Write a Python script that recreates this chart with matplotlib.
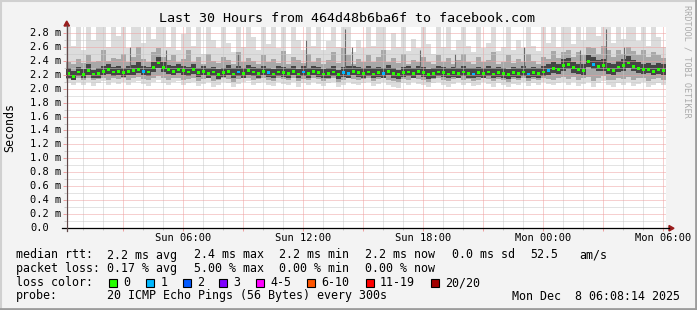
import matplotlib
matplotlib.use('Agg')

import numpy as np
import matplotlib.pyplot as plt
import matplotlib.transforms as mtrans
from matplotlib.lines import Line2D
from matplotlib.patches import Polygon, Rectangle

W, H = 697, 310
plt.rcParams['font.family'] = 'DejaVu Sans Mono'

# time axis: hours after Sun 00:00, one bin = 15 min
t_start = 0.15
bin_hours = 0.25

median_ms = [
    2.22, 2.18, 2.24, 2.20, 2.26, 2.21, 2.22, 2.25, 2.27, 2.24,
    2.25, 2.23, 2.25, 2.26, 2.28, 2.25, 2.24, 2.30, 2.37, 2.30,
    2.27, 2.25, 2.28, 2.26, 2.24, 2.27, 2.23, 2.25, 2.22, 2.24,
    2.20, 2.23, 2.25, 2.21, 2.24, 2.22, 2.26, 2.24, 2.22, 2.25,
    2.23, 2.21, 2.24, 2.23, 2.22, 2.25, 2.21, 2.24, 2.22, 2.25,
    2.23, 2.21, 2.22, 2.24, 2.20, 2.23, 2.22, 2.25, 2.23, 2.22,
    2.24, 2.21, 2.23, 2.22, 2.25, 2.22, 2.20, 2.23, 2.24, 2.22,
    2.25, 2.23, 2.20, 2.22, 2.24, 2.23, 2.21, 2.23, 2.22, 2.24,
    2.22, 2.21, 2.23, 2.22, 2.24, 2.21, 2.23, 2.22, 2.20, 2.23,
    2.22, 2.24, 2.21, 2.23, 2.22, 2.24, 2.26, 2.29, 2.27, 2.33,
    2.35, 2.30, 2.27, 2.26, 2.39, 2.35, 2.32, 2.33, 2.28, 2.26,
    2.31, 2.33, 2.37, 2.32, 2.29, 2.27, 2.28, 2.25, 2.28, 2.26,
]

# lost pings per bin (0 = green)
loss = [
    0, 0, 0, 0, 0, 0, 0, 0, 0, 0, 0, 0, 0, 0, 0, 1, 0, 0, 0, 0,
    0, 0, 0, 0, 0, 0, 0, 0, 0, 0, 0, 0, 0, 0, 1, 0, 0, 0, 0, 0,
    1, 0, 0, 0, 0, 0, 0, 1, 0, 0, 0, 0, 0, 0, 0, 1, 1, 0, 0, 0,
    0, 0, 0, 1, 0, 0, 0, 0, 0, 0, 0, 0, 0, 0, 0, 0, 0, 0, 0, 0,
    0, 1, 0, 0, 0, 0, 0, 0, 0, 0, 0, 0, 1, 0, 0, 0, 1, 0, 0, 0,
    0, 0, 0, 0, 0, 1, 0, 0, 0, 0, 0, 0, 0, 0, 0, 0, 0, 0, 0, 0,
]

smoke_min = [
    2.08, 2.05, 2.10, 2.06, 2.09, 2.04, 2.08, 2.11, 2.06, 2.09,
    2.07, 2.10, 2.05, 2.09, 2.11, 2.07, 2.04, 2.10, 2.12, 2.08,
    2.06, 2.09, 2.11, 2.05, 2.08, 2.10, 2.04, 2.07, 2.09, 2.03,
    2.06, 2.10, 2.08, 2.02, 2.07, 2.09, 2.11, 2.05, 2.08, 2.10,
    2.06, 2.04, 2.09, 2.07, 2.05, 2.10, 2.03, 2.08, 2.06, 2.09,
    2.07, 2.04, 2.08, 2.10, 2.02, 2.06, 2.09, 2.07, 2.05, 2.08,
    2.10, 2.04, 2.07, 2.09, 2.06, 2.03, 2.01, 2.08, 2.06, 2.09,
    2.07, 2.05, 2.02, 2.08, 2.10, 2.06, 2.03, 2.07, 2.09, 2.05,
    2.08, 2.04, 2.06, 2.09, 2.07, 2.03, 2.08, 2.06, 2.02, 2.07,
    2.05, 2.09, 2.04, 2.08, 2.06, 2.09, 2.07, 2.05, 2.08, 2.10,
    2.06, 2.09, 2.04, 2.07, 2.10, 2.02, 2.08, 2.11, 2.05, 2.03,
    2.08, 2.06, 2.10, 2.04, 2.07, 2.09, 2.03, 2.06, 2.08, 2.05,
]

smoke_lo = [
    2.14, 2.12, 2.15, 2.13, 2.16, 2.12, 2.14, 2.16, 2.13, 2.15,
    2.14, 2.16, 2.12, 2.15, 2.17, 2.14, 2.12, 2.16, 2.18, 2.15,
    2.13, 2.15, 2.16, 2.12, 2.14, 2.16, 2.11, 2.14, 2.15, 2.11,
    2.13, 2.16, 2.14, 2.10, 2.14, 2.15, 2.16, 2.12, 2.14, 2.16,
    2.13, 2.11, 2.15, 2.14, 2.12, 2.16, 2.11, 2.14, 2.13, 2.15,
    2.14, 2.11, 2.14, 2.16, 2.10, 2.13, 2.15, 2.14, 2.12, 2.14,
    2.16, 2.11, 2.14, 2.15, 2.13, 2.11, 2.09, 2.14, 2.13, 2.15,
    2.14, 2.12, 2.10, 2.14, 2.16, 2.13, 2.11, 2.14, 2.15, 2.12,
    2.14, 2.11, 2.13, 2.15, 2.14, 2.11, 2.14, 2.13, 2.10, 2.14,
    2.12, 2.15, 2.11, 2.14, 2.13, 2.15, 2.14, 2.13, 2.15, 2.17,
    2.14, 2.17, 2.12, 2.15, 2.17, 2.11, 2.16, 2.18, 2.13, 2.12,
    2.16, 2.14, 2.17, 2.12, 2.15, 2.16, 2.11, 2.14, 2.15, 2.13,
]

core_lo = [
    2.16, 2.13, 2.18, 2.15, 2.20, 2.15, 2.16, 2.19, 2.21, 2.18,
    2.19, 2.17, 2.19, 2.20, 2.22, 2.19, 2.18, 2.24, 2.30, 2.24,
    2.21, 2.19, 2.22, 2.20, 2.18, 2.21, 2.17, 2.19, 2.16, 2.18,
    2.14, 2.17, 2.19, 2.15, 2.18, 2.16, 2.20, 2.18, 2.16, 2.19,
    2.17, 2.15, 2.18, 2.17, 2.16, 2.19, 2.15, 2.18, 2.16, 2.19,
    2.17, 2.15, 2.16, 2.18, 2.14, 2.17, 2.16, 2.19, 2.17, 2.16,
    2.18, 2.15, 2.17, 2.16, 2.19, 2.16, 2.14, 2.17, 2.18, 2.16,
    2.19, 2.17, 2.14, 2.16, 2.18, 2.17, 2.15, 2.17, 2.16, 2.18,
    2.16, 2.15, 2.17, 2.16, 2.18, 2.15, 2.17, 2.16, 2.14, 2.17,
    2.16, 2.18, 2.15, 2.17, 2.16, 2.18, 2.20, 2.22, 2.21, 2.26,
    2.28, 2.23, 2.21, 2.20, 2.31, 2.28, 2.25, 2.26, 2.21, 2.20,
    2.24, 2.26, 2.30, 2.25, 2.22, 2.21, 2.22, 2.19, 2.21, 2.20,
]

core_hi = [
    2.29, 2.26, 2.31, 2.28, 2.35, 2.27, 2.30, 2.33, 2.36, 2.31,
    2.32, 2.30, 2.33, 2.34, 2.38, 2.33, 2.31, 2.39, 2.45, 2.38,
    2.34, 2.33, 2.36, 2.33, 2.31, 2.35, 2.30, 2.33, 2.29, 2.31,
    2.28, 2.30, 2.34, 2.29, 2.32, 2.30, 2.34, 2.31, 2.29, 2.33,
    2.30, 2.28, 2.32, 2.31, 2.29, 2.33, 2.28, 2.32, 2.30, 2.33,
    2.31, 2.28, 2.30, 2.32, 2.27, 2.31, 2.32, 2.33, 2.31, 2.30,
    2.32, 2.29, 2.31, 2.30, 2.34, 2.30, 2.27, 2.31, 2.32, 2.30,
    2.33, 2.31, 2.28, 2.30, 2.32, 2.31, 2.29, 2.31, 2.30, 2.32,
    2.30, 2.29, 2.31, 2.30, 2.33, 2.29, 2.31, 2.30, 2.28, 2.31,
    2.30, 2.32, 2.29, 2.31, 2.30, 2.33, 2.35, 2.38, 2.36, 2.42,
    2.44, 2.39, 2.36, 2.35, 2.48, 2.45, 2.41, 2.42, 2.37, 2.35,
    2.40, 2.42, 2.47, 2.41, 2.38, 2.36, 2.37, 2.34, 2.37, 2.35,
]

smoke_hi = [
    2.38, 2.36, 2.42, 2.37, 2.48, 2.38, 2.40, 2.55, 2.40, 2.44,
    2.42, 2.50, 2.39, 2.46, 2.60, 2.42, 2.39, 2.52, 2.58, 2.45,
    2.41, 2.48, 2.38, 2.43, 2.55, 2.39, 2.45, 2.36, 2.50, 2.40,
    2.37, 2.46, 2.41, 2.35, 2.52, 2.38, 2.44, 2.40, 2.36, 2.48,
    2.39, 2.43, 2.37, 2.54, 2.35, 2.46, 2.41, 2.37, 2.50, 2.39,
    2.44, 2.36, 2.41, 2.52, 2.37, 2.58, 2.48, 2.36, 2.42, 2.38,
    2.48, 2.39, 2.45, 2.55, 2.38, 2.44, 2.37, 2.50, 2.36, 2.41,
    2.38, 2.46, 2.39, 2.35, 2.48, 2.38, 2.44, 2.36, 2.41, 2.50,
    2.39, 2.35, 2.46, 2.38, 2.41, 2.52, 2.36, 2.39, 2.48, 2.37,
    2.42, 2.38, 2.50, 2.40, 2.36, 2.46, 2.42, 2.54, 2.44, 2.52,
    2.56, 2.46, 2.52, 2.48, 2.60, 2.58, 2.50, 2.62, 2.55, 2.46,
    2.56, 2.50, 2.60, 2.54, 2.48, 2.55, 2.45, 2.52, 2.48, 2.44,
]

smoke_max = [
    2.89, 2.62, 2.89, 2.55, 2.89, 2.70, 2.89, 2.89, 2.60, 2.89,
    2.75, 2.89, 2.58, 2.89, 2.89, 2.66, 2.89, 2.72, 2.89, 2.89,
    2.60, 2.89, 2.55, 2.78, 2.89, 2.62, 2.89, 2.50, 2.89, 2.70,
    2.58, 2.89, 2.66, 2.52, 2.89, 2.60, 2.89, 2.74, 2.55, 2.89,
    2.64, 2.89, 2.58, 2.89, 2.50, 2.89, 2.70, 2.56, 2.89, 2.62,
    2.89, 2.55, 2.68, 2.89, 2.60, 2.89, 2.89, 2.52, 2.70, 2.58,
    2.89, 2.62, 2.89, 2.89, 2.56, 2.80, 2.60, 2.89, 2.54, 2.72,
    2.58, 2.89, 2.64, 2.50, 2.89, 2.60, 2.89, 2.56, 2.70, 2.89,
    2.62, 2.52, 2.89, 2.58, 2.66, 2.89, 2.54, 2.60, 2.89, 2.56,
    2.70, 2.58, 2.89, 2.62, 2.54, 2.89, 2.66, 2.89, 2.60, 2.89,
    2.89, 2.64, 2.89, 2.70, 2.89, 2.89, 2.76, 2.89, 2.89, 2.66,
    2.89, 2.72, 2.89, 2.89, 2.68, 2.89, 2.62, 2.89, 2.74, 2.60,
]

# single-sample dark streaks
spike_hours = [3.35, 5.15, 8.75, 12.15, 14.1, 14.45, 17.85, 19.6, 23.05, 25.85, 27.15, 28.05]
spike_tops = [2.60, 2.55, 2.50, 2.70, 2.85, 2.60, 2.55, 2.50, 2.60, 2.55, 2.85, 2.60]

time_ticks = [6, 12, 18, 24, 30]
time_labels = ['Sun 06:00', 'Sun 12:00', 'Sun 18:00', 'Mon 00:00', 'Mon 06:00']
y_ticks = [0.0, 0.2, 0.4, 0.6, 0.8, 1.0, 1.2, 1.4, 1.6, 1.8, 2.0, 2.2, 2.4, 2.6, 2.8]

loss_labels = ['0', '1', '2', '3', '4-5', '6-10', '11-19', '20/20']
loss_colors = ['#26ff00', '#00b8ff', '#0059ff', '#7e00ff', '#ff00ff', '#ff5500', '#ff0000', '#a10000']

rtt_stats = ['2.2 ms avg', '2.4 ms max', '2.2 ms min', '2.2 ms now', '0.0 ms sd', '52.5', 'am/s']
loss_stats = ['0.17 % avg', '5.00 % max', '0.00 % min', '0.00 % now']


def fx(x):
    return x / W


def fy(y):
    return 1 - y / H


fig = plt.figure(figsize=(W / 100, H / 100), dpi=100, facecolor='#f3f3f3')

# plot area in pixels: x 66..666, y 27..228
x0, x1, ybot, ytop = 66, 666, 228, 26.7
ax = fig.add_axes([fx(x0), fy(ybot), (x1 - x0) / W, (ybot - ytop) / H])
ax.set_facecolor('white')
ax.set_xlim(t_start, t_start + 30)
ax.set_ylim(0, 2.89)
for s in ax.spines.values():
    s.set_visible(False)

n = len(median_ms)
t_left = t_start + bin_hours * np.arange(n)
mins = np.array(smoke_min)
maxs = np.array(smoke_max)
los = np.array(smoke_lo)
his = np.array(smoke_hi)
clo = np.array(core_lo)
chi = np.array(core_hi)
med = np.array(median_ms)

bar_kw = dict(width=bin_hours, align='edge', linewidth=0, zorder=1)
ax.bar(t_left, maxs - mins, bottom=mins, color='#dcdcdc', **bar_kw)
ax.bar(t_left, his - los, bottom=los, color='#a8a8a8', **bar_kw)
ax.bar(t_left, chi - clo, bottom=clo, color='#454545', **bar_kw)
ax.vlines(spike_hours, 2.3, spike_tops, color='#6a6a6a', lw=0.8, zorder=1.2)

# median drawn as short loss-coloured blips, like smokeping's median band
sw = 0.02
ax.bar(t_left + bin_hours * 0.15, 2 * sw, bottom=med - sw, width=bin_hours * 0.7,
       align='edge', linewidth=0, color=[loss_colors[l] for l in loss], zorder=4)

# grid
ax.set_xticks(np.arange(3, 31, 3))
ax.set_xticks(np.arange(1, 31, 1), minor=True)
ax.set_xticklabels([time_labels[time_ticks.index(h)] if h in time_ticks else ''
                    for h in np.arange(3, 31, 3)])
ax.set_yticks(y_ticks)
ax.set_yticks(np.arange(0.1, 2.9, 0.2), minor=True)
ax.set_yticklabels([])
ax.set_axisbelow(False)
ax.grid(which='minor', color='#c8c8c8', ls=(0, (1, 1)), lw=0.72)
ax.grid(which='major', color='#eea0a0', ls=(0, (1, 1)), lw=0.72)
ax.tick_params(which='major', length=2.5, width=0.72, color='#eea0a0',
               labelsize=7.5, pad=1.2)
ax.tick_params(which='minor', length=1.5, width=0.72, color='#c8c8c8')

# y tick labels, left aligned in a fixed column like rrdtool
tr = mtrans.blended_transform_factory(fig.transFigure, ax.transData)
for v in y_ticks:
    lab = f'{v:.1f} m' if v > 0 else '0.0'
    ax.text(fx(30), v, lab, transform=tr, ha='left', va='center', fontsize=7.5)

# axes lines and arrows
fig.add_artist(Line2D([fx(62), fx(669)], [fy(228.3), fy(228.3)], color='black', lw=0.9))
fig.add_artist(Line2D([fx(66.7), fx(66.7)], [fy(231), fy(25)], color='#604848', lw=0.9))
fig.add_artist(Polygon([(fx(669), fy(225.5)), (fx(674), fy(228.3)), (fx(669), fy(231))],
                       closed=True, color='#9a1c1c', transform=fig.transFigure))
fig.add_artist(Polygon([(fx(64), fy(26)), (fx(66.7), fy(21)), (fx(69.5), fy(26))],
                       closed=True, color='#9a1c1c', transform=fig.transFigure))

# texts
fig.text(0.498, fy(19), 'Last 30 Hours from 464d48b6ba6f to facebook.com',
         ha='center', va='center', fontsize=9.6)
fig.text(fx(10), fy(128), 'Seconds', rotation=90, ha='center', va='center', fontsize=8.4)
fig.text(fx(687), fy(61), 'RRDTOOL / TOBI OETIKER', rotation=270, ha='center',
         va='center', fontsize=6.1, color='#aaaaaa')

lfs = 8.4
row_y = [255, 268.5, 282.5, 296]
fig.text(fx(16), fy(row_y[0]), 'median rtt:', va='center', fontsize=lfs)
for x, s in zip([107, 194, 279, 365, 452, 530, 579], rtt_stats):
    fig.text(fx(x), fy(row_y[0]), s, va='center', fontsize=lfs)
fig.text(fx(16), fy(row_y[1]), 'packet loss:', va='center', fontsize=lfs)
for x, s in zip([107, 194, 279, 365], loss_stats):
    fig.text(fx(x), fy(row_y[1]), s, va='center', fontsize=lfs)
fig.text(fx(16), fy(row_y[2]), 'loss color:', va='center', fontsize=lfs)
box_x = [108.5, 146, 182.5, 219, 256, 307, 365.5, 430.5]
for bx, lab, col in zip(box_x, loss_labels, loss_colors):
    fig.add_artist(Rectangle((fx(bx), fy(row_y[2] + 4)), 8 / W, 8 / H, facecolor=col,
                             edgecolor='black', lw=0.8, transform=fig.transFigure))
    fig.text(fx(bx + 14.5), fy(row_y[2]), lab, va='center', fontsize=lfs)
fig.text(fx(16), fy(row_y[3]), 'probe:', va='center', fontsize=lfs)
fig.text(fx(107), fy(row_y[3]), '20 ICMP Echo Pings (56 Bytes) every 300s', va='center', fontsize=lfs)
fig.text(fx(512.5), fy(row_y[3]), 'Mon Dec  8 06:08:14 2025', va='center', fontsize=lfs)

# 3d frame
fig.add_artist(Line2D([0, 1], [fy(0.75), fy(0.75)], color='#d0d0d0', lw=1.5))
fig.add_artist(Line2D([fx(0.75), fx(0.75)], [0, 1], color='#d0d0d0', lw=1.5))
fig.add_artist(Line2D([0, 1], [fy(308.8), fy(308.8)], color='#9c9c9c', lw=2.0))
fig.add_artist(Line2D([fx(695.8), fx(695.8)], [0, 1], color='#9c9c9c', lw=2.0))

fig.savefig('out.png', dpi=100, facecolor=fig.get_facecolor())
